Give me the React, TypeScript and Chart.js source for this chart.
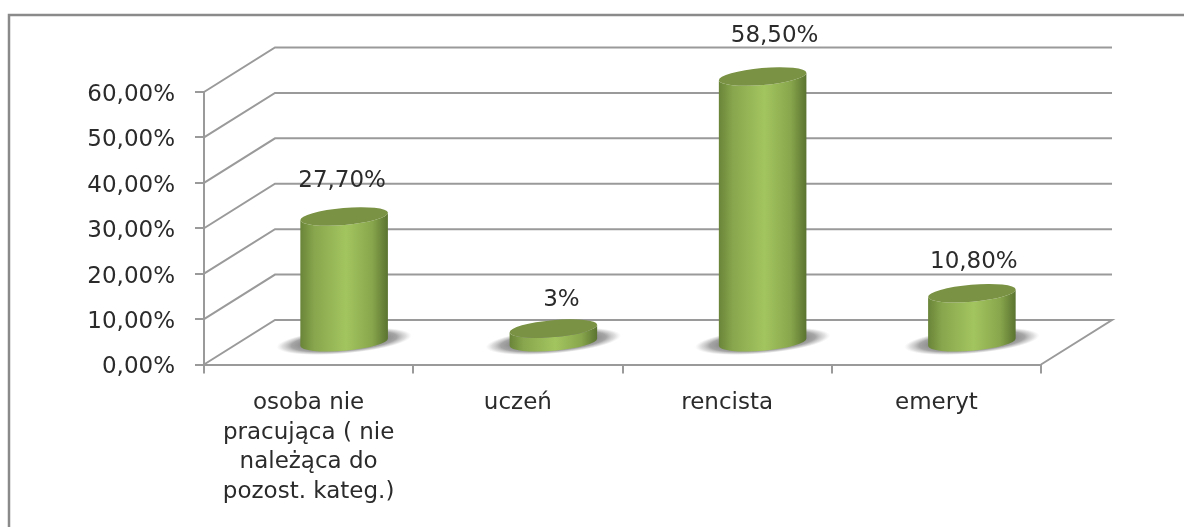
import React, { useEffect, useRef } from "react";
import { Chart, registerables } from "chart.js";

Chart.register(...registerables);

const categories = [
  ["osoba nie", "pracująca ( nie", "należąca do", "pozost. kateg.)"],
  ["uczeń"],
  ["rencista"],
  ["emeryt"],
];
const values = [27.7, 3, 58.5, 10.8];
const valueLabels = ["27,70%", "3%", "58,50%", "10,80%"];

const FONT = '"DejaVu Sans", sans-serif';
const FONT_SIZE = 23;
const TEXT = "#2b2b2b";
const GRID = "#9a9a9a";
const DEPTH_X = 71;
const DEPTH_Y = 44.5;
const TILT = (-5 * Math.PI) / 180;
const RY = 8.5;
const LABEL_NUDGE = [
  { x: -2, y: -35.5 },
  { x: 8, y: -28.5 },
  { x: 12, y: -40.5 },
  { x: 2, y: -31 },
];

const scene = {
  id: "scene",
  beforeDraw(chart: any) {
    const c = chart.ctx;
    c.save();
    c.strokeStyle = "#8a8a8a";
    c.lineWidth = 2.5;
    c.beginPath();
    c.moveTo(9, 527);
    c.lineTo(9, 15);
    c.lineTo(1184, 15);
    c.stroke();
    c.restore();
  },
  beforeDatasetsDraw(chart: any) {
    const c = chart.ctx;
    const { left, right } = chart.chartArea;
    const yScale = chart.scales.y;
    c.save();
    c.strokeStyle = GRID;
    c.lineWidth = 2;
    c.lineJoin = "miter";
    for (const t of yScale.ticks) {
      const y = yScale.getPixelForValue(t.value);
      c.beginPath();
      c.moveTo(left, y);
      c.lineTo(left + DEPTH_X, y - DEPTH_Y);
      c.lineTo(right + DEPTH_X, y - DEPTH_Y);
      if (t.value === 0) c.lineTo(right, y);
      c.stroke();
    }
    c.restore();
  },
  afterDatasetsDraw(chart: any) {
    const c = chart.ctx;
    const { bottom } = chart.chartArea;
    const meta = chart.getDatasetMeta(0);
    const baseY = bottom - DEPTH_Y / 2;
    meta.data.forEach((el: any, i: number) => {
      const cx = el.x + DEPTH_X / 2;
      const topY = el.y - DEPTH_Y / 2;
      const rx = el.width / 2;

      // floor shadow
      c.save();
      c.translate(cx, baseY - 1);
      c.rotate(TILT);
      c.scale(1, 12.5 / 68);
      const sh = c.createRadialGradient(0, 0, 38, 0, 0, 68);
      sh.addColorStop(0, "rgba(130,130,130,1)");
      sh.addColorStop(0.5, "rgba(150,150,150,0.85)");
      sh.addColorStop(0.8, "rgba(185,185,185,0.45)");
      sh.addColorStop(1, "rgba(215,215,215,0)");
      c.fillStyle = sh;
      c.beginPath();
      c.arc(0, 0, 68, 0, Math.PI * 2);
      c.fill();
      c.restore();

      // body
      const g = c.createLinearGradient(cx - rx, 0, cx + rx, 0);
      g.addColorStop(0, "#698438");
      g.addColorStop(0.16, "#88a64d");
      g.addColorStop(0.52, "#a3c55f");
      g.addColorStop(0.82, "#88a64c");
      g.addColorStop(1, "#5a7330");
      c.fillStyle = g;
      c.beginPath();
      c.ellipse(cx, baseY, rx, RY, TILT, 0, Math.PI);
      c.ellipse(cx, topY, rx, RY, TILT, Math.PI, 0, true);
      c.closePath();
      c.fill();

      // lid
      c.fillStyle = "#7a9243";
      c.beginPath();
      c.ellipse(cx, topY, rx, RY, TILT, 0, Math.PI * 2);
      c.fill();

      // value label
      c.fillStyle = TEXT;
      c.font = `${FONT_SIZE}px ${FONT}`;
      c.textAlign = "center";
      c.textBaseline = "middle";
      c.fillText(valueLabels[i], cx + LABEL_NUDGE[i].x, topY + LABEL_NUDGE[i].y);
    });
  },
};

export default function App() {
  const ref = useRef<HTMLCanvasElement | null>(null);
  useEffect(() => {
    if (!ref.current) return;
    const chart = new Chart(ref.current, {
      type: "bar",
      data: {
        labels: categories,
        datasets: [
          {
            data: values,
            backgroundColor: "rgba(0,0,0,0)",
            borderWidth: 0,
            categoryPercentage: 1,
            barPercentage: 0.42,
          },
        ],
      },
      plugins: [scene],
      options: {
        animation: false,
        responsive: false,
        layout: { padding: { top: 92, right: 143, left: 0, bottom: 0 } },
        plugins: { legend: { display: false }, tooltip: { enabled: false }, title: { display: false } },
        scales: {
          x: {
            afterFit: (s: any) => {
              s.height = 162.5;
            },
            grid: { drawOnChartArea: false, color: GRID, lineWidth: 2, tickLength: 9, offset: true },
            border: { color: GRID, width: 2 },
            ticks: {
              color: TEXT,
              font: { family: FONT, size: FONT_SIZE, lineHeight: 1.28 },
              padding: 15,
              maxRotation: 0,
              autoSkip: false,
            },
          },
          y: {
            min: 0,
            max: 60,
            afterFit: (s: any) => {
              s.width = 204;
            },
            grid: { drawOnChartArea: false, color: GRID, lineWidth: 2, tickLength: 9 },
            border: { color: GRID, width: 2 },
            ticks: {
              stepSize: 10,
              color: TEXT,
              font: { family: FONT, size: FONT_SIZE },
              padding: 20,
              labelOffset: 3,
              callback: (v: any) => Number(v).toFixed(2).replace(".", ",") + "%",
            },
          },
        },
      },
    } as any);
    return () => chart.destroy();
  }, []);
  return (
    <canvas
      ref={ref}
      width={1184}
      height={527}
      style={{ position: "fixed", left: 0, top: 0, width: 1184, height: 527, display: "block", background: "#fff", filter: "blur(0.6px)" }}
    />
  );
}
